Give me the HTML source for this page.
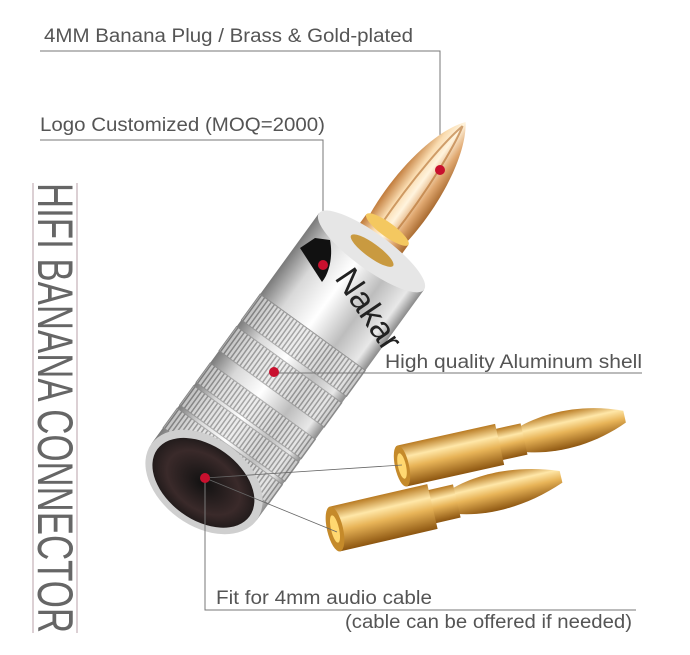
<!DOCTYPE html>
<html><head><meta charset="utf-8"><style>
html,body{margin:0;padding:0;background:#fff;width:690px;height:655px;overflow:hidden}
svg{display:block}
text{font-family:"Liberation Sans",sans-serif;fill:#555}
</style></head><body>
<svg width="690" height="655" viewBox="0 0 690 655" xmlns="http://www.w3.org/2000/svg">
<defs>
<linearGradient id="silver" x1="0" y1="0" x2="1" y2="0">
<stop offset="0" stop-color="#7a7a7a"/><stop offset="0.2" stop-color="#d8d8d8"/><stop offset="0.45" stop-color="#ffffff"/><stop offset="0.7" stop-color="#bdbdbd"/><stop offset="0.9" stop-color="#e8e8e8"/><stop offset="1" stop-color="#8a8a8a"/>
</linearGradient>
<linearGradient id="gold" x1="0" y1="0" x2="1" y2="0">
<stop offset="0" stop-color="#c07a3a"/><stop offset="0.3" stop-color="#fadcb0"/><stop offset="0.5" stop-color="#fff4de"/><stop offset="0.75" stop-color="#e0a870"/><stop offset="1" stop-color="#a86a30"/>
</linearGradient>
<linearGradient id="goldv" x1="0" y1="0" x2="0" y2="1">
<stop offset="0" stop-color="#b87a22"/><stop offset="0.3" stop-color="#ffe7a8"/><stop offset="0.55" stop-color="#e8b458"/><stop offset="1" stop-color="#8c5510"/>
</linearGradient>
<pattern id="knurl" width="4" height="10" patternUnits="userSpaceOnUse">
<rect width="4" height="10" fill="#e4e4e4"/><rect x="0" width="1.5" height="10" fill="#555" opacity="0.75"/>
</pattern>
<radialGradient id="hole" cx="0.5" cy="0.5" r="0.6">
<stop offset="0" stop-color="#111"/><stop offset="0.6" stop-color="#3a2a2a"/><stop offset="1" stop-color="#111"/>
</radialGradient>
</defs>

<text x="44" y="42" font-size="19" textLength="369" lengthAdjust="spacingAndGlyphs">4MM Banana Plug / Brass &amp; Gold-plated</text>
<polyline points="40,51 440,51 440,170" fill="none" stroke="#777" stroke-width="1"/>
<text x="40" y="131" font-size="19" textLength="285" lengthAdjust="spacingAndGlyphs">Logo Customized (MOQ=2000)</text>
<polyline points="40,140 323,140 323,265" fill="none" stroke="#777" stroke-width="1"/>

<line x1="33" y1="183" x2="33" y2="633" stroke="#b9a0a8" stroke-width="1"/>
<line x1="77" y1="183" x2="77" y2="633" stroke="#b9a0a8" stroke-width="1"/>
<text transform="translate(38,183) rotate(90)" font-size="50" textLength="450" lengthAdjust="spacingAndGlyphs" style="fill:#666">HIFI BANANA CONNECTOR</text>

<g transform="translate(204,482) rotate(36)">
  <path d="M-22,-305 C-30,-360 -20,-420 0,-445 C20,-420 30,-360 22,-305 Z" fill="url(#gold)"/>
  <path d="M-8,-310 C-10,-370 -5,-420 0,-440 M8,-310 C10,-370 5,-420 0,-440" stroke="#b06a2a" stroke-width="2" fill="none" opacity="0.6"/>
  <rect x="-26" y="-312" width="52" height="26" fill="url(#gold)"/>
  <ellipse cx="0" cy="-312" rx="26" ry="7" fill="#f4c860"/>
  <rect x="-65" y="-285" width="130" height="285" fill="url(#silver)"/>
  <ellipse cx="0" cy="-285" rx="65" ry="18" fill="#e6e6e6"/>
  <ellipse cx="0" cy="-286" rx="26" ry="7" fill="#c99a40"/>
  <g stroke="#8a8a8a" stroke-width="1">
    <rect x="-65" y="-185" width="130" height="32" fill="url(#knurl)"/>
    <rect x="-65" y="-145" width="130" height="30" fill="url(#knurl)"/>
    <rect x="-65" y="-100" width="130" height="24" fill="url(#knurl)"/>
    <rect x="-65" y="-72" width="130" height="24" fill="url(#knurl)"/>
    <rect x="-65" y="-44" width="130" height="24" fill="url(#knurl)"/>
  </g>
  <rect x="-65" y="-185" width="130" height="185" fill="url(#silver)" opacity="0.35"/>
  <ellipse cx="0" cy="0" rx="65" ry="44" fill="#cfcfcf"/>
  <ellipse cx="0" cy="1" rx="57" ry="37" fill="url(#hole)"/>
</g>
<path d="M300,248 L315,238 L330,240 C333,255 330,272 322,282 Z" fill="#111"/>
<text transform="translate(334,278) rotate(56)" font-size="34" style="fill:#222">Nakar</text>

<g transform="translate(402,466) rotate(-12.5)">
  <path d="M120,-12 C150,-22 190,-22 228,-6 L228,6 C190,22 150,22 120,12 Z" fill="url(#goldv)"/>
  <rect x="95" y="-16" width="30" height="32" fill="url(#goldv)"/>
  <rect x="0" y="-21" width="100" height="42" fill="url(#goldv)"/>
  <ellipse cx="0" cy="0" rx="7" ry="21" fill="#c58a2a"/>
  <ellipse cx="0" cy="0" rx="4" ry="13" fill="#ffd870"/>
</g>
<g transform="translate(335,529) rotate(-13)">
  <path d="M120,-12 C150,-22 190,-22 232,-6 L232,6 C190,22 150,22 120,12 Z" fill="url(#goldv)"/>
  <rect x="95" y="-17" width="30" height="34" fill="url(#goldv)"/>
  <rect x="0" y="-23" width="100" height="46" fill="url(#goldv)"/>
  <ellipse cx="0" cy="0" rx="8" ry="23" fill="#c58a2a"/>
  <ellipse cx="0" cy="0" rx="4" ry="14" fill="#ffd870"/>
</g>

<line x1="274" y1="373" x2="642" y2="373" stroke="#777"/>
<line x1="205" y1="478" x2="402" y2="465" stroke="#666" stroke-width="0.8"/>
<line x1="205" y1="478" x2="337" y2="532" stroke="#666" stroke-width="0.8"/>
<polyline points="205,478 205,610 636,610" fill="none" stroke="#777"/>
<text x="385" y="368" font-size="19" textLength="257" lengthAdjust="spacingAndGlyphs">High quality Aluminum shell</text>
<text x="216" y="604" font-size="19" textLength="216" lengthAdjust="spacingAndGlyphs">Fit for 4mm audio cable</text>
<text x="345" y="628" font-size="19" textLength="287" lengthAdjust="spacingAndGlyphs">(cable can be offered if needed)</text>

<circle cx="440" cy="170" r="5" fill="#c8102e"/>
<circle cx="323" cy="265" r="5" fill="#c8102e"/>
<circle cx="274" cy="372" r="5" fill="#c8102e"/>
<circle cx="205" cy="478" r="5" fill="#c8102e"/>
</svg>
</body></html>
